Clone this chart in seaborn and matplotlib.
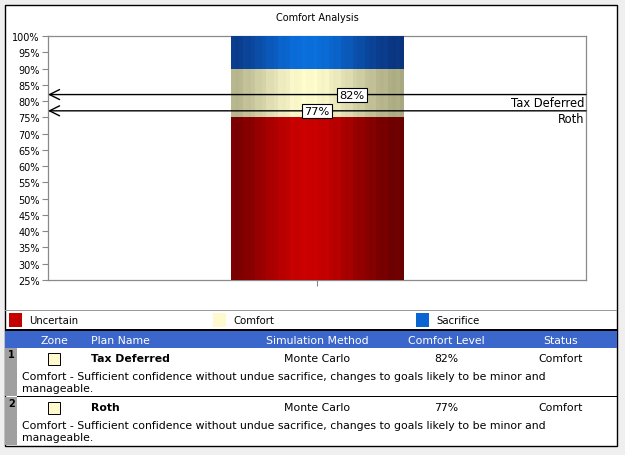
import numpy as np
import pandas as pd
import matplotlib
matplotlib.use("Agg")
import matplotlib.pyplot as plt
import seaborn as sns
from matplotlib.patches import Rectangle

# ---------------- data ----------------
zones = ["Uncertain", "Comfort", "Sacrifice"]
zone_lower = [25, 75, 90]
zone_upper = [75, 90, 100]
zone_colors = ["#c40000", "#fffacd", "#0a64d2"]
zone_center_rgb = [(205, 0, 0), (255, 252, 206), (10, 112, 222)]
zone_edge_rgb = [(100, 0, 0), (165, 165, 125), (10, 48, 120)]
plans = ["Tax Deferred", "Roth"]
comfort_levels = [82, 77]
label_offsets = [0.065, 0.0]
methods = ["Monte Carlo", "Monte Carlo"]
statuses = ["Comfort", "Comfort"]
desc_lines = ["Comfort - Sufficient confidence without undue sacrifice, changes to goals likely to be minor and",
              "manageable."]
yticks = list(range(25, 101, 5))
header = ["Zone", "Plan Name", "Simulation Method", "Comfort Level", "Status"]

W, H = 625, 456

sns.set_theme(style="white")
plt.rcParams["font.family"] = ["DejaVu Sans"]
plt.rcParams["text.color"] = "black"
plt.rcParams["ytick.labelcolor"] = "black"
plt.rcParams["xtick.labelcolor"] = "black"

fig = plt.figure(figsize=(W / 100, H / 100), dpi=100)
fig.patch.set_facecolor("#efefef")


def fx(x):
    return x / W


def fy(y):
    return 1 - y / H


def rect(x0, y0, x1, y1, **kw):
    r = Rectangle((fx(x0), fy(y1)), fx(x1) - fx(x0), fy(y0) - fy(y1),
                  transform=fig.transFigure, **kw)
    fig.add_artist(r)
    return r


def txt(x, y, s, **kw):
    kw.setdefault("fontsize", 7.8)
    kw.setdefault("va", "center")
    kw.setdefault("color", "black")
    fig.text(fx(x), fy(y), s, **kw)


# outer panel
rect(5, 6, 617, 447, facecolor="white", edgecolor="black", lw=1.0, zorder=0)

# ---------------- chart ----------------
ax = fig.add_axes([fx(48), fy(281), fx(586) - fx(48), fy(37) - fy(281)])
ax.set_facecolor("white")

bar_w = 0.32
cat = ["Plan"]
for i in reversed(range(len(zones))):
    sns.barplot(x=cat, y=[zone_upper[i]], color=zone_colors[i], width=bar_w,
                saturation=1, ax=ax, edgecolor="none", linewidth=0)

# cylinder-like shading
patch = ax.patches[0]
bx0 = patch.get_x()
bx1 = bx0 + patch.get_width()
n = 44
t = (np.arange(n) + 0.5) / n
w = np.exp(-((t - 0.45) / 0.34) ** 2)
w = w + 0.03 * np.where(np.arange(n) % 3 == 0, 1, -1)
w = np.clip(w, 0, 1)
for i in range(len(zones)):
    c = np.array(zone_center_rgb[i]) / 255
    e = np.array(zone_edge_rgb[i]) / 255
    img = (e[None, :] + w[:, None] * (c - e)[None, :])[None, :, :]
    ax.imshow(img, extent=(bx0, bx1, zone_lower[i], zone_upper[i]),
              aspect="auto", zorder=3, interpolation="nearest")

ax.set_xlim(-0.5, 0.5)
ax.set_ylim(25, 100)
ax.set_yticks(yticks)
ax.set_yticklabels([f"{v}%" for v in yticks], fontsize=7, color="black")
ax.set_xticks([0])
ax.set_xticklabels([""])
ax.set_xlabel("")
ax.set_ylabel("")
ax.tick_params(axis="both", direction="out", length=4, width=0.8,
               color="#888888", pad=2, left=True, bottom=True)
for s in ax.spines.values():
    s.set_color("#8a8a8a")
    s.set_linewidth(0.9)

for plan, lvl, off in zip(plans, comfort_levels, label_offsets):
    ax.annotate("", xy=(-0.5, lvl), xytext=(0.5, lvl),
                arrowprops=dict(arrowstyle="->,head_length=0.6,head_width=0.3",
                                lw=1.0, color="black", shrinkA=0, shrinkB=0),
                zorder=5)
    ax.text(off, lvl, f"{lvl}%", ha="center", va="center", fontsize=8.2, zorder=6,
            color="black",
            bbox=dict(boxstyle="square,pad=0.18", fc="white", ec="black", lw=0.8))
    ax.text(0.497, lvl - 0.5, plan, ha="right", va="top", fontsize=8.3, zorder=6,
            color="black")

txt(317, 18, "Comfort Analysis", ha="center", fontsize=7)

# ---------------- legend ----------------
rect(5, 311, 617, 311.6, facecolor="#999999", edgecolor="none")
leg_x = [9, 213, 416]
for x, name, col in zip(leg_x, zones, zone_colors):
    rect(x, 314, x + 13, 328, facecolor=col, edgecolor="none")
    txt(x + 20, 321, name, fontsize=7.3)

# ---------------- table ----------------
rect(5, 330, 617, 332, facecolor="black", edgecolor="none")
rect(5, 332, 617, 349, facecolor="#3b66cc", edgecolor="none")
hx = [54, 91, 317, 446, 561]
ha = ["center", "left", "center", "center", "center"]
for x, h, a in zip(hx, header, ha):
    txt(x, 341, h, ha=a, color="white")

row_top = [349, 398]
for r, (plan, lvl, m, st) in enumerate(zip(plans, comfort_levels, methods, statuses)):
    y0 = row_top[r]
    y1 = y0 + 48
    rect(5, y0, 17, y1, facecolor="#a0a0a0", edgecolor="none")
    txt(8, y0 + 6, str(r + 1), fontweight="bold", fontsize=7)
    rect(48, y0 + 5, 60, y0 + 17, facecolor="#fffacd", edgecolor="black", lw=0.7)
    ymid = y0 + 10
    txt(91, ymid, plan, fontweight="bold")
    txt(317, ymid, m, ha="center")
    txt(446, ymid, f"{lvl}%", ha="center")
    txt(561, ymid, st, ha="center")
    txt(22, y0 + 28, desc_lines[0])
    txt(22, y0 + 40, desc_lines[1])
    if r == 0:
        rect(17, y1 - 0.5, 617, y1 + 0.5, facecolor="black", edgecolor="none")

fig.savefig("out.png", dpi=100, facecolor=fig.get_facecolor())
